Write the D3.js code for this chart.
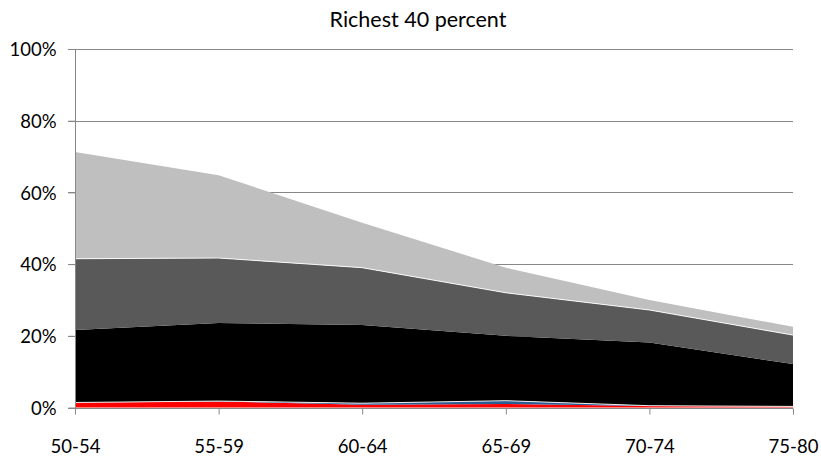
<!DOCTYPE html>
<html>
<head>
<meta charset="utf-8">
<script src="https://cdn.jsdelivr.net/npm/d3@7"></script>
<style>
  html, body { margin: 0; padding: 0; background: #fff; }
  svg text { font-family: "Lato", "Liberation Sans", sans-serif; fill: #000; }
</style>
</head>
<body>
<svg id="chart" width="821" height="458"></svg>
<script>
const categories = ["50-54", "55-59", "60-64", "65-69", "70-74", "75-80"];
const seriesNames = ["red", "blue", "black", "darkgray", "lightgray"];
const redValues = [0.014, 0.017, 0.008, 0.010, 0.004, 0.003];
const blueValues = [0.000, 0.001, 0.004, 0.009, 0.001, 0.000];
const blackValues = [0.202, 0.218, 0.218, 0.181, 0.176, 0.118];
const darkGrayValues = [0.199, 0.181, 0.160, 0.120, 0.091, 0.081];
const lightGrayValues = [0.298, 0.231, 0.125, 0.070, 0.028, 0.023];
const seriesColors = ["#ff0000", "#2a5d94", "#000000", "#595959", "#bfbfbf"];
const borderedSeries = ["blue", "darkgray"];
const yTicks = [0, 0.2, 0.4, 0.6, 0.8, 1.0];
const title = "Richest 40 percent";

const svg = d3.select("#chart");
const plotLeft = 75, plotRight = 793, plotTop = 49, plotBottom = 407.5;

const x = d3.scalePoint().domain(categories).range([plotLeft, plotRight]).padding(0);
const y = d3.scaleLinear().domain([0, 1]).range([plotBottom, plotTop]);

const table = categories.map((c, i) => ({
  cat: c,
  red: redValues[i], blue: blueValues[i], black: blackValues[i],
  darkgray: darkGrayValues[i], lightgray: lightGrayValues[i]
}));
const stacked = d3.stack().keys(seriesNames)(table);

const gridColor = "#878787";

// gridlines
svg.append("g")
  .selectAll("line")
  .data(yTicks.filter(d => d > 0))
  .join("line")
  .attr("x1", plotLeft - 7).attr("x2", plotRight)
  .attr("y1", d => Math.round(y(d)) + 0.5).attr("y2", d => Math.round(y(d)) + 0.5)
  .attr("stroke", gridColor).attr("stroke-width", 1);

// areas
const area = d3.area()
  .x(d => x(d.data.cat))
  .y0(d => y(d[0]))
  .y1(d => y(d[1]));
const topLine = d3.line()
  .x(d => x(d.data.cat))
  .y(d => y(d[1]));

svg.append("g").selectAll("path")
  .data(stacked)
  .join("path")
  .attr("d", area)
  .attr("fill", (d, i) => seriesColors[i]);

svg.append("g").selectAll("path")
  .data(stacked.filter(s => borderedSeries.includes(s.key)))
  .join("path")
  .attr("d", topLine)
  .attr("fill", "none")
  .attr("stroke", "#ffffff")
  .attr("stroke-opacity", 0.9)
  .attr("stroke-width", 1);

// y axis
const yAxis = d3.axisLeft(y).tickValues(yTicks).tickSize(7).tickFormat(d3.format(".0%"));
const gy = svg.append("g").attr("transform", `translate(${plotLeft + 0.5},0)`).call(yAxis);
gy.select(".domain").attr("stroke", gridColor).attr("d", `M0,${plotTop}V${plotBottom}`);
gy.selectAll(".tick line").attr("stroke", gridColor);
gy.selectAll(".tick text")
  .attr("x", -19)
  .attr("font-size", 18.5)
  .attr("font-family", "Lato")
  .attr("dy", "0.36em");

// x axis
const xAxis = d3.axisBottom(x).tickSize(6);
const gx = svg.append("g").attr("transform", `translate(0,${Math.round(plotBottom) + 0.5})`).call(xAxis);
gx.select(".domain").attr("stroke", gridColor).attr("d", `M${plotLeft - 7},0H${plotRight}`);
gx.selectAll(".tick line").attr("stroke", gridColor);
gx.selectAll(".tick text")
  .attr("y", 44)
  .attr("dy", 0)
  .attr("font-size", 18.5)
  .attr("font-family", "Lato");

// title
svg.append("text")
  .attr("x", 418).attr("y", 27)
  .attr("text-anchor", "middle")
  .attr("font-size", 21.5)
  .text(title);
</script>
</body>
</html>
